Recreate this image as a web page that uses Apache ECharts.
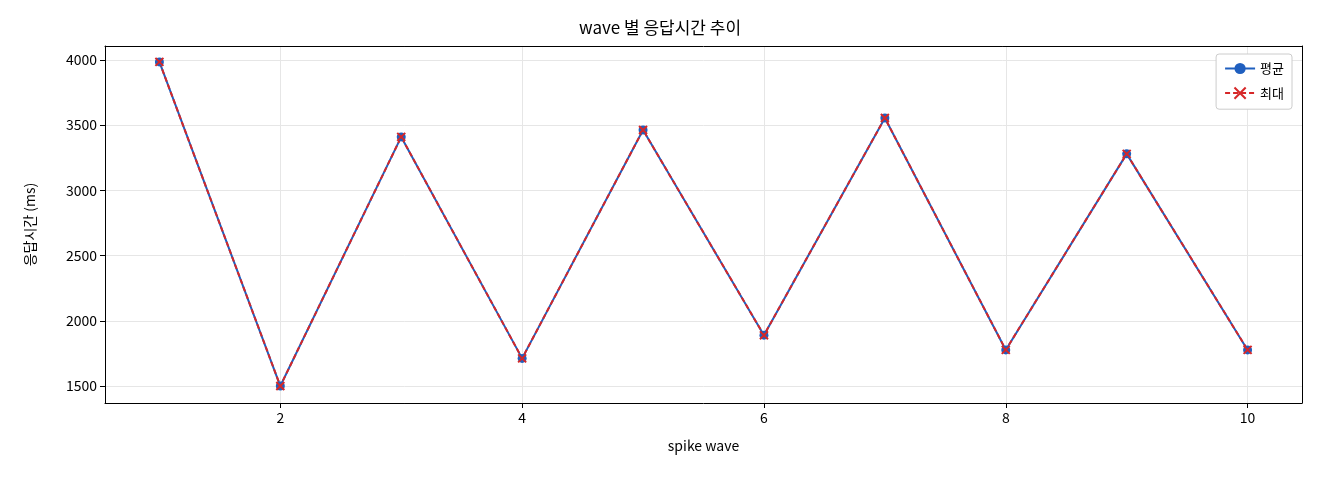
<!DOCTYPE html>
<html><head><meta charset="utf-8">
<script src="https://cdn.jsdelivr.net/npm/echarts@6/dist/echarts.min.js"></script>
<style>html,body{margin:0;background:#fff}#c{width:1320px;height:480px}</style>
</head><body><div id="c"></div>
<script>
const waves = [1,2,3,4,5,6,7,8,9,10];
const avgMs = [3985,1500,3410,1712,3463,1890,3555,1777,3280,1777];
const maxMs = [3985,1500,3410,1712,3463,1890,3555,1777,3280,1777];
const xTicks = [2,4,6,8,10];
const yTicks = [1500,2000,2500,3000,3500,4000];
const F = '"Noto Sans CJK KR", "DejaVu Sans", sans-serif';
const chart = echarts.init(document.getElementById('c'));
const frame = {show:true,onZero:false,lineStyle:{color:'#000'}};
chart.setOption({
  animation:false,
  textStyle:{fontFamily:F},
  title:{text:'wave 별 응답시간 추이',left:'center',top:14,textStyle:{fontFamily:F,fontSize:17,fontWeight:'normal',color:'#000'}},
  grid:{left:105,right:18,top:46,bottom:77},
  legend:{right:28,top:54,orient:'vertical',itemWidth:30,itemGap:10,backgroundColor:'#fff',borderColor:'#ccc',borderWidth:1,borderRadius:3,padding:[8,8],textStyle:{fontFamily:F,fontSize:13,color:'#000'},
    data:['평균','최대']},
  xAxis:[{type:'value',min:0.55,max:10.45,name:'spike wave',nameLocation:'middle',nameGap:36,nameTextStyle:{fontFamily:F,fontSize:14,color:'#000'},
    axisLine:frame,
    axisTick:{customValues:xTicks,lineStyle:{color:'#000'}},
    axisLabel:{customValues:xTicks,color:'#000',fontSize:14,fontFamily:F,formatter:v=>String(v)},
    splitLine:{show:true,lineStyle:{color:'#e6e6e6'}}},
    {type:'value',position:'top',min:0.55,max:10.45,axisLine:frame,axisTick:{show:false},axisLabel:{show:false},splitLine:{show:false}}],
  yAxis:[{type:'value',min:1370,max:4107,name:'응답시간 (ms)',nameLocation:'middle',nameGap:68,nameTextStyle:{fontFamily:F,fontSize:14,color:'#000'},
    axisLine:frame,
    axisTick:{show:true,customValues:yTicks,lineStyle:{color:'#000'}},
    axisLabel:{customValues:yTicks,color:'#000',fontSize:14,fontFamily:F,formatter:v=>String(v)},
    splitLine:{show:true,lineStyle:{color:'#e6e6e6'}}},
    {type:'value',position:'right',min:1370,max:4107,axisLine:frame,axisTick:{show:false},axisLabel:{show:false},splitLine:{show:false}}],
  series:[
    {name:'평균',type:'line',data:waves.map((w,i)=>[w,avgMs[i]]),symbol:'circle',symbolSize:9,color:'#1f5fbf',lineStyle:{width:2,color:'#1f5fbf'},itemStyle:{color:'#1f5fbf'}},
    {name:'최대',type:'line',data:waves.map((w,i)=>[w,maxMs[i]]),symbol:'path://M0,0L10,10M10,0L0,10',symbolSize:8,color:'#d62728',lineStyle:{width:2,type:[5,3],color:'#d62728'},itemStyle:{color:'none',borderColor:'#d62728',borderWidth:2}}
  ]
});
</script></body></html>
